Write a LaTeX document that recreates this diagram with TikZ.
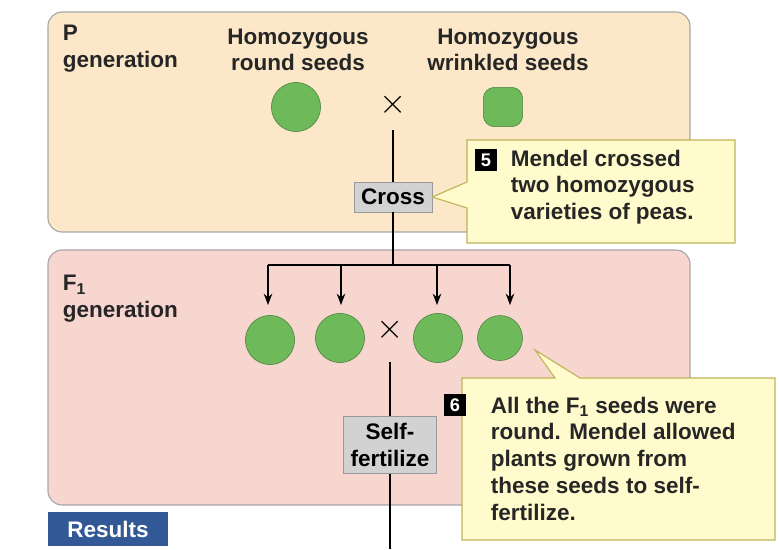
\documentclass[tikz,border=0pt]{standalone}
\usepackage{fontspec}
\setmainfont{Liberation Sans}
\usetikzlibrary{positioning,arrows.meta}
\definecolor{porange}{RGB}{252,232,200}
\definecolor{fpink}{RGB}{247,214,208}
\definecolor{callyel}{RGB}{255,251,204}
\definecolor{callbrd}{RGB}{190,180,90}
\definecolor{seedgreen}{RGB}{110,185,90}
\definecolor{resblue}{RGB}{50,88,150}
\tikzset{
  panel/.style={draw=gray!70,rounded corners=10pt,line width=0.8pt},
  lbl/.style={font=\fontsize{16}{19}\selectfont\bfseries,align=center,text=black!85},
  graybox/.style={draw=gray!80,fill=gray!35,font=\fontsize{16}{19}\selectfont\bfseries,align=center,inner sep=5pt},
  callout/.style={draw=callbrd,fill=callyel,line width=0.8pt},
  num/.style={fill=black,text=white,font=\fontsize{13}{13}\selectfont\bfseries,minimum size=15pt,inner sep=0pt},
  seed/.style={circle,fill=seedgreen,draw=seedgreen!70!black,minimum size=35pt,inner sep=0pt},
  cross/.style={font=\fontsize{26}{26}\selectfont},
  link/.style={line width=1.2pt}
}
\begin{document}
\begin{tikzpicture}[x=0.025cm,y=-0.025cm]
\useasboundingbox (0,0) rectangle (779,549);
% panels
\draw[panel,fill=porange] (48,12) rectangle (690,232);
\draw[panel,fill=fpink] (48,250) rectangle (690,505);
\node[lbl,anchor=north west,align=left] (plbl) at (58,20) {P\\generation};
\node[lbl] (round) at (298,50) {Homozygous\\round seeds};
\node[lbl] (wrink) at (508,50) {Homozygous\\wrinkled seeds};
% P seeds
\node[seed] (s0) at (296,107) {};
\node[seed,minimum size=28pt,rectangle,rounded corners=8pt] (s1) at (503,107) {};
\node[cross] (x1) at (393,105) {$\times$};
% cross
\node[graybox] (cross) at (393,197) {Cross};
\coordinate (split) at (393,265);
\draw[link] (393,130) -- (cross.north);
\draw[link] (cross.south) -- (split);
% callout 5
\draw[callout] (cross.east) -- (467,182) -- (467,140) -- (735,140) -- (735,243) -- (467,243) -- (467,208) -- cycle;
\node[num] (n5) at (486,160) {5};
\node[lbl,align=left,anchor=north west] (t5) at (506,145) {Mendel crossed\\two homozygous\\varieties of peas.};
% F1
\node[lbl,anchor=north west,align=left] (flbl) at (58,270) {F$_{\mathbf 1}$\\generation};
\node[seed] (f1) at (270,340) {};
\node[seed] (f2) at (340,338) {};
\node[seed] (f3) at (438,338) {};
\node[seed,minimum size=32pt] (f4) at (500,338) {};
\node[cross] (x2) at (390,330) {$\times$};
\draw[link] (268,265) -- (510,265);
\foreach \xx in {268,341,437,510}
  \draw[link,-{Stealth[length=8pt]}] (\xx,265) -- (\xx,305);
% self-fertilize
\node[graybox] (self) at (390,445) {Self-\\fertilize};
\draw[link] (390,362) -- (self.north);
\coordinate (bot) at (390,549);
\draw[link] (self.south) -- (bot);
% callout 6
\draw[callout] (535,350) -- (580,378) -- (775,378) -- (775,540) -- (462,540) -- (462,378) -- (555,378) -- cycle;
\node[num] (n6) at (455,405) {6};
\node[lbl,align=left,anchor=north west] (t6) at (486,392) {All the F$_{\mathbf 1}$ seeds were\\round. Mendel allowed\\plants grown from\\these seeds to self-\\fertilize.};
% results tab
\node[fill=resblue,text=white,font=\fontsize{16}{19}\selectfont\bfseries,minimum width=85pt,minimum height=24pt,anchor=north west] (res) at (48,512) {Results};
\end{tikzpicture}
\end{document}
